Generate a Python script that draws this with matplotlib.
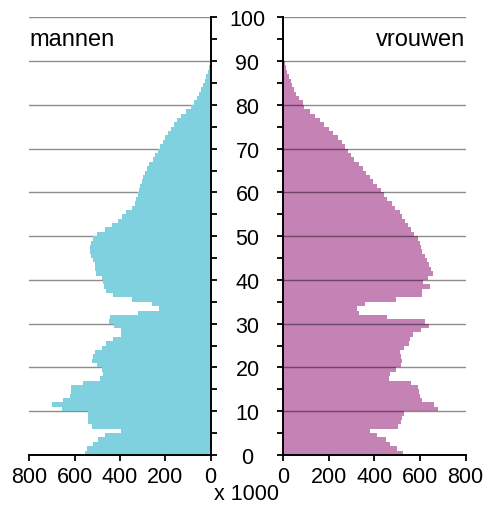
import numpy as np
import matplotlib
matplotlib.use("Agg")
import matplotlib.pyplot as plt
from matplotlib.ticker import MultipleLocator

# --- data (x 1000 persons per age year) ---
ages = np.arange(0, 100)

mannen = [555, 545, 520, 495, 465, 395, 525, 540, 540, 540,
          655, 700, 650, 620, 615, 615, 565, 490, 475, 478,
          500, 525, 520, 510, 480, 460, 430, 395, 395, 425,
          450, 445, 320, 228, 260, 345, 430, 460, 472, 475,
          480, 505, 510, 512, 520, 530, 532, 532, 530, 520,
          500, 465, 435, 410, 390, 375, 345, 335, 328, 322,
          318, 312, 305, 298, 290, 280, 270, 255, 245, 232,
          222, 212, 200, 190, 175, 162, 150, 130, 110, 85,
          75, 62, 52, 43, 35, 27, 20, 14, 9, 5,
          3, 2, 1, 1, 0.5, 0.5, 0, 0, 0, 0]

vrouwen = [524, 500, 470, 450, 410, 382, 505, 515, 520, 530,
           680, 660, 610, 598, 595, 592, 560, 462, 470, 495,
           518, 520, 518, 512, 530, 552, 556, 570, 605, 640,
           620, 455, 330, 322, 358, 495, 607, 610, 643, 615,
           636, 655, 648, 640, 630, 620, 608, 605, 600, 590,
           572, 560, 548, 535, 520, 510, 490, 475, 455, 440,
           428, 410, 395, 380, 365, 350, 330, 312, 295, 282,
           270, 258, 240, 220, 200, 180, 160, 140, 118, 90,
           88, 68, 57, 47, 40, 32, 25, 18, 13, 8,
           4, 3, 2, 1, 1, 0.5, 0.5, 0, 0, 0]

x_ticks = [0, 200, 400, 600, 800]
y_ticks = list(range(0, 101, 10))

kleur_man = "#80d1df"
kleur_vrouw = "#c582b5"

plt.rcParams["font.family"] = ["Liberation Sans", "DejaVu Sans"]

fig = plt.figure(figsize=(4.85, 5.06), dpi=100)
ax_m = fig.add_axes([0.0604, 0.0988, 0.374, 0.865])
ax_v = fig.add_axes([0.5841, 0.0988, 0.376, 0.865])

def steps(vals):
    y = np.append(ages, ages[-1] + 1)
    x = np.append(vals, vals[-1])
    return y, x

# --- mannen (links) ---
for g in y_ticks[1:]:
    ax_m.axhline(g, color="#8c8c8c", lw=1.0, zorder=1)
y, x = steps(mannen)
ax_m.fill_betweenx(y, 0, x, step="post", color=kleur_man, lw=0, zorder=2)
ax_m.set_xlim(800, 0)
ax_m.set_ylim(0, 100)
ax_m.spines["left"].set_visible(False)
ax_m.spines["top"].set_visible(False)
ax_m.yaxis.tick_right()
ax_m.set_yticks(y_ticks)
ax_m.set_yticklabels([str(t) for t in y_ticks])
ax_m.yaxis.set_minor_locator(MultipleLocator(5))
ax_m.tick_params(axis="y", which="both", direction="out", length=4.5, width=1.3,
                 pad=22, labelsize=15.5)
for lab in ax_m.get_yticklabels():
    lab.set_horizontalalignment("center")

# --- vrouwen (rechts) ---
y, x = steps(vrouwen)
ax_v.fill_betweenx(y, 0, x, step="post", color=kleur_vrouw, lw=0, zorder=1)
for g in y_ticks[1:]:
    ax_v.axhline(g, color="black", alpha=0.45, lw=1.0, zorder=2)
ax_v.set_xlim(0, 800)
ax_v.set_ylim(0, 100)
ax_v.spines["right"].set_visible(False)
ax_v.spines["top"].set_visible(False)
ax_v.set_yticks(y_ticks)
ax_v.set_yticklabels([])
ax_v.yaxis.set_minor_locator(MultipleLocator(5))
ax_v.tick_params(axis="y", which="both", direction="out", length=4.5, width=1.3)

for ax in (ax_m, ax_v):
    ax.set_xticks(x_ticks)
    ax.set_xticklabels([str(t) for t in x_ticks])
    ax.tick_params(axis="x", direction="out", length=4.5, width=1.3, pad=3.5,
                   labelsize=15.5)
    for s in ("left", "right", "bottom"):
        ax.spines[s].set_linewidth(1.4)
    ax.patch.set_alpha(0)

ax_m.text(0.0, 0.95, "mannen", transform=ax_m.transAxes, fontsize=17,
          ha="left", va="center")
ax_v.text(1.0, 0.95, "vrouwen", transform=ax_v.transAxes, fontsize=17,
          ha="right", va="center")
fig.text(0.509, 0.022, "x 1000", fontsize=15.5, ha="center", va="center")

fig.savefig("out.png", dpi=100)
